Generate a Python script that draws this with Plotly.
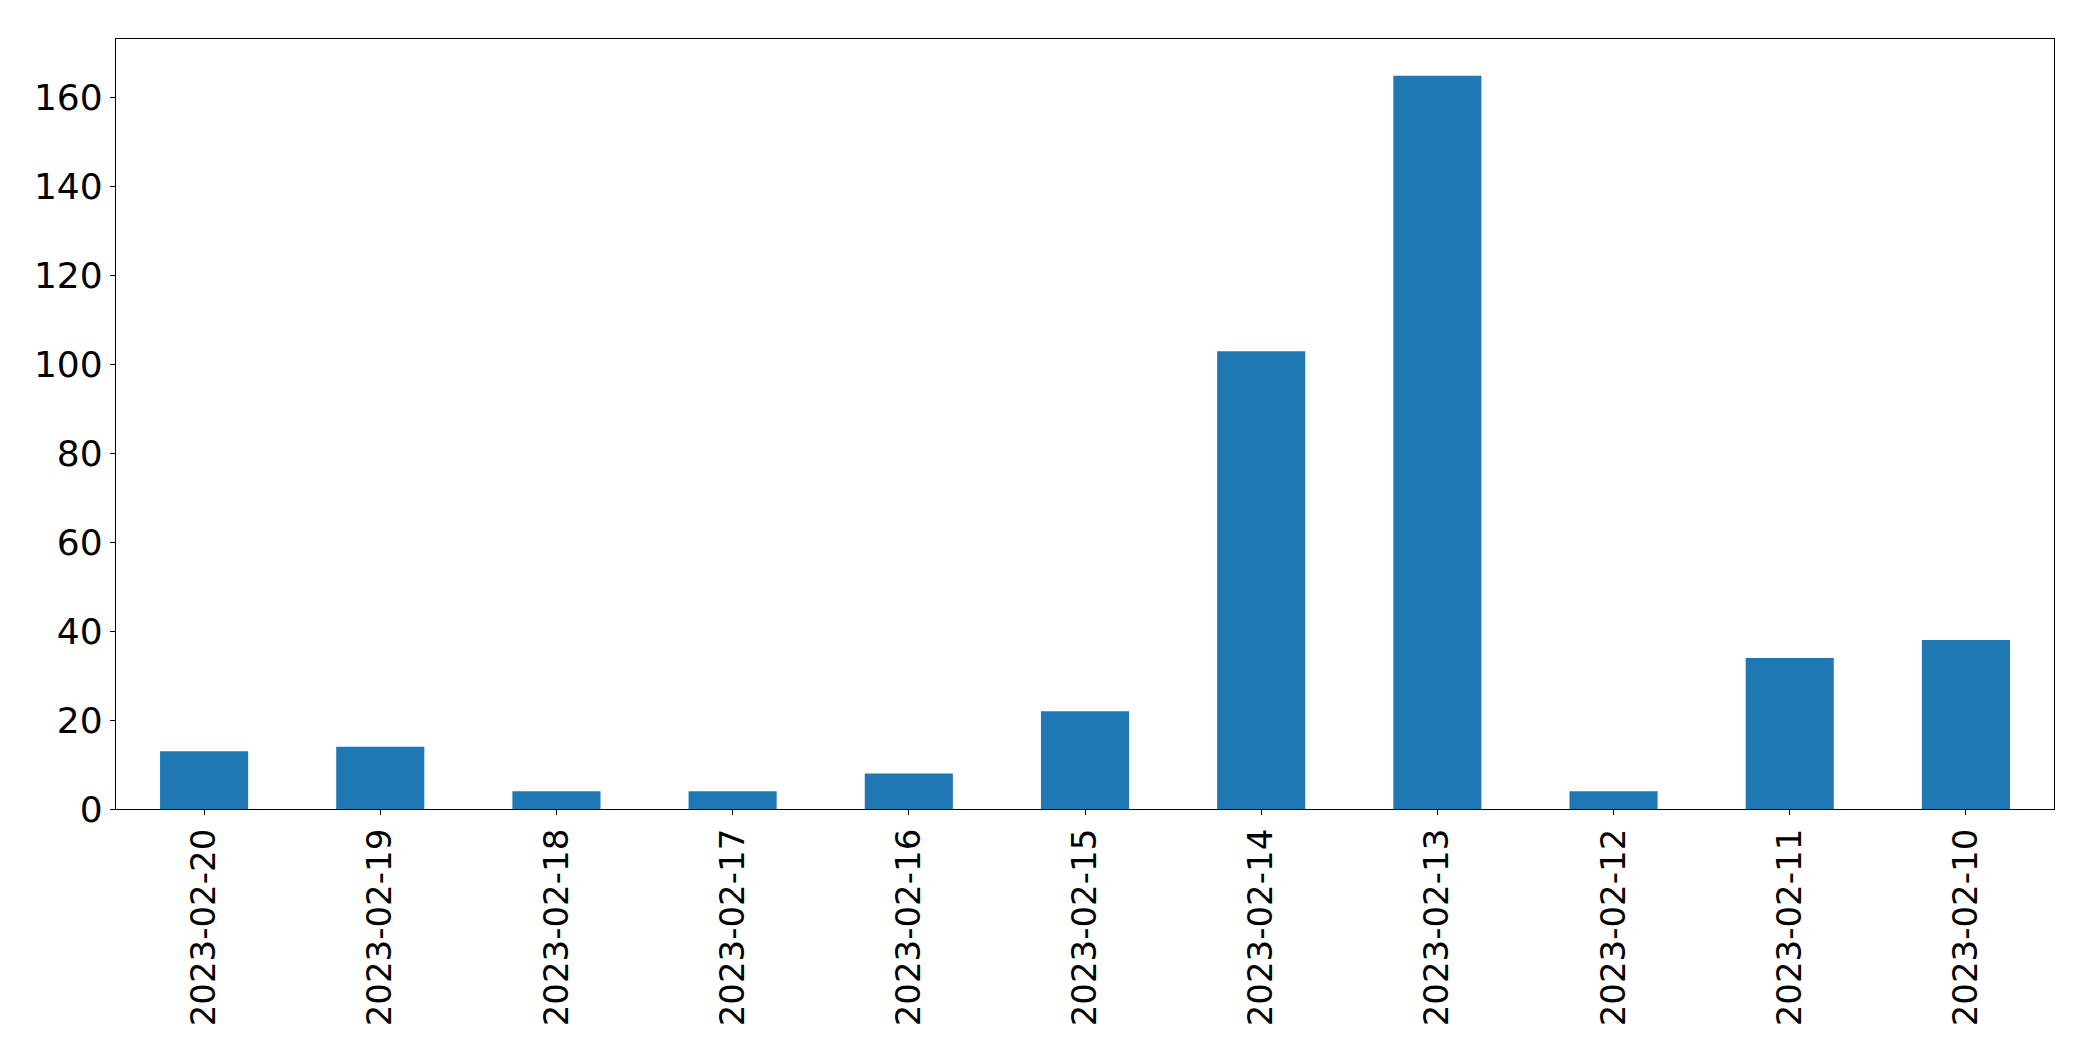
import plotly.graph_objects as go

dates = ["2023-02-20", "2023-02-19", "2023-02-18", "2023-02-17", "2023-02-16",
         "2023-02-15", "2023-02-14", "2023-02-13", "2023-02-12", "2023-02-11", "2023-02-10"]
counts = [13, 14, 4, 4, 8, 22, 103, 165, 4, 34, 38]
y_ticks = [0, 20, 40, 60, 80, 100, 120, 140, 160]

fig = go.Figure(go.Bar(x=dates, y=counts, width=0.5, marker=dict(color="#1f77b4", line=dict(width=0))))

fig.update_layout(
    width=2077, height=1045, autosize=False,
    margin=dict(l=108, r=31, t=31, b=244, pad=0),
    paper_bgcolor="white", plot_bgcolor="white",
    font=dict(family="DejaVu Sans", size=35, color="black"),
    showlegend=False,
)
fig.update_xaxes(
    type="category", range=[-0.5, 10.5], tickangle=-90,
    tickfont=dict(size=34),
    showline=True, linecolor="black", linewidth=1.3, mirror=True,
    ticks="outside", ticklen=5, tickwidth=1.3, tickcolor="black",
    showgrid=False, zeroline=False,
)
fig.update_yaxes(
    range=[0, 173.25], tickvals=y_ticks,
    tickfont=dict(size=36),
    showline=True, linecolor="black", linewidth=1.3, mirror=True,
    ticks="outside", ticklen=5, tickwidth=1.3, tickcolor="black",
    showgrid=False, zeroline=False,
)
fig.write_html("out.html")
